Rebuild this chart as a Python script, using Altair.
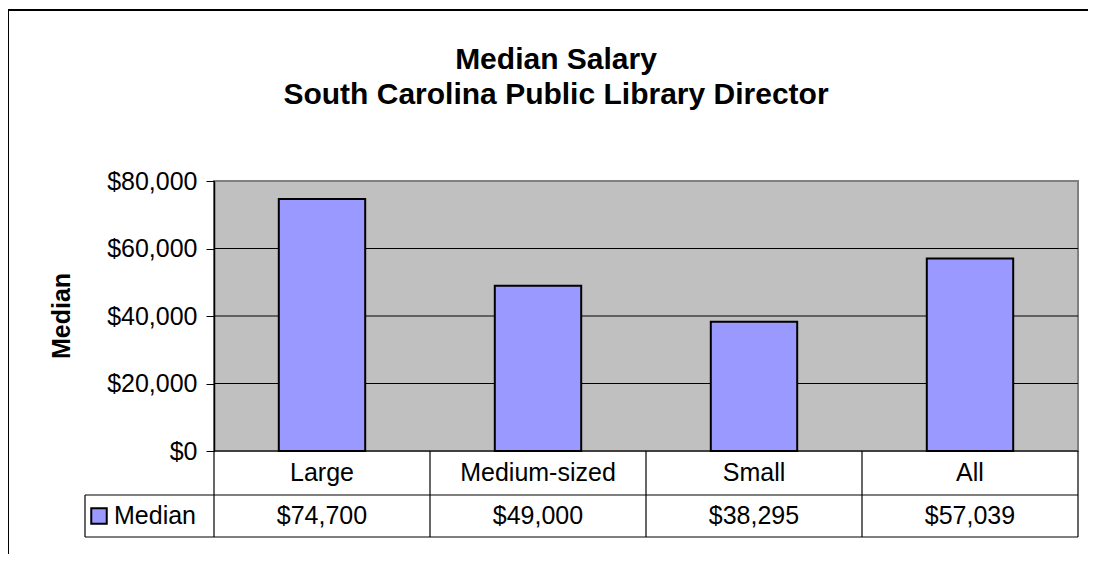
import altair as alt
import pandas as pd

# ---- data ----
categories = ["Large", "Medium-sized", "Small", "All"]
medians = [74700, 49000, 38295, 57039]
value_labels = ["$74,700", "$49,000", "$38,295", "$57,039"]
y_ticks = [0, 20000, 40000, 60000, 80000]
grid_values = [20000, 40000, 60000]
series_name = "Median"
title_lines = ["Median Salary", "South Carolina Public Library Director"]
y_title = "Median"

# ---- layout (pixels) ----
W, H = 864, 270
Y_MAX = 80000
N = len(categories)
PX_Y = H / Y_MAX          # pixels per salary unit
PX_X = W / N              # pixels per category column
ROW1 = -44 / PX_Y         # bottom of category row (in y units)
ROW2 = -86 / PX_Y         # bottom of value row
ROW1_MID = ROW1 / 2
ROW2_MID = (ROW1 + ROW2) / 2
LEG_LEFT = -129 / PX_X    # left edge of legend column
LEG_KEY = -115 / PX_X
LEG_TEXT = -100 / PX_X

FONT = "Liberation Sans"
BAR_COLOR = "#9999FF"

XS = alt.Scale(domain=[0, N], nice=False, zero=False, padding=0)
YS = alt.Scale(domain=[0, Y_MAX], nice=False, zero=False, padding=0)
YAX = alt.Axis(
    values=y_ticks, format="$,.0f", grid=False, title=None,
    domainColor="black", domainWidth=1.5,
    tickColor="black", tickSize=8, tickWidth=1,
    labelFontSize=25, labelFont=FONT, labelColor="black",
    labelPadding=9,
)

bars_df = pd.DataFrame({
    "cat": categories,
    "value": medians,
    "label": value_labels,
    "i": list(range(N)),
})
bars_df["x0"] = bars_df["i"] + 0.3
bars_df["x1"] = bars_df["i"] + 0.7
bars_df["xc"] = bars_df["i"] + 0.5
bars_df["row1"] = ROW1_MID
bars_df["row2"] = ROW2_MID

grid_df = pd.DataFrame({"y": grid_values, "x0": 0, "x1": N})

hlines_df = pd.DataFrame({
    "x0": [LEG_LEFT, LEG_LEFT, 0],
    "x1": [N, N, N],
    "y": [ROW1, ROW2, 0],
})
vlines_df = pd.DataFrame({
    "x": list(range(N + 1)) + [LEG_LEFT],
    "y0": [0] * (N + 1) + [ROW1],
    "y1": [ROW2] * (N + 1) + [ROW2],
})
legend_df = pd.DataFrame({"x": [LEG_KEY], "xt": [LEG_TEXT], "y": [ROW2_MID], "name": [series_name]})

grid = alt.Chart(grid_df).mark_rule(color="black", strokeWidth=1).encode(
    x=alt.X("x0:Q", scale=XS, axis=None),
    x2="x1:Q",
    y=alt.Y("y:Q", scale=YS, axis=YAX),
)

bars = alt.Chart(bars_df).mark_rect(
    color=BAR_COLOR, stroke="black", strokeWidth=2
).encode(
    x=alt.X("x0:Q", scale=XS, axis=None),
    x2="x1:Q",
    y=alt.Y("value:Q", scale=YS, axis=YAX),
    y2=alt.datum(0),
)

hlines = alt.Chart(hlines_df).mark_rule(color="black", strokeWidth=1.2).encode(
    x=alt.X("x0:Q", scale=XS, axis=None),
    x2="x1:Q",
    y=alt.Y("y:Q", scale=YS, axis=YAX),
)
vlines = alt.Chart(vlines_df).mark_rule(color="black", strokeWidth=1.2).encode(
    x=alt.X("x:Q", scale=XS, axis=None),
    y=alt.Y("y0:Q", scale=YS, axis=YAX),
    y2="y1:Q",
)

cat_text = alt.Chart(bars_df).mark_text(
    font=FONT, fontSize=25, color="black", baseline="middle", align="center"
).encode(
    x=alt.X("xc:Q", scale=XS, axis=None),
    y=alt.Y("row1:Q", scale=YS, axis=YAX),
    text="cat:N",
)
val_text = alt.Chart(bars_df).mark_text(
    font=FONT, fontSize=25, color="black", baseline="middle", align="center"
).encode(
    x=alt.X("xc:Q", scale=XS, axis=None),
    y=alt.Y("row2:Q", scale=YS, axis=YAX),
    text="label:N",
)

leg_key = alt.Chart(legend_df).mark_square(
    size=240, color=BAR_COLOR, stroke="black", strokeWidth=2, opacity=1
).encode(
    x=alt.X("x:Q", scale=XS, axis=None),
    y=alt.Y("y:Q", scale=YS, axis=YAX),
)
leg_text = alt.Chart(legend_df).mark_text(
    font=FONT, fontSize=25, color="black", baseline="middle", align="left"
).encode(
    x=alt.X("xt:Q", scale=XS, axis=None),
    y=alt.Y("y:Q", scale=YS, axis=YAX),
    text="name:N",
)

title_df = pd.DataFrame({"t1": [title_lines[0]], "t2": [title_lines[1]], "yt": [y_title]})
title1 = alt.Chart(title_df).mark_text(
    font=FONT, fontSize=30, fontWeight="bold", color="black",
    align="center", baseline="alphabetic"
).encode(x=alt.value(342), y=alt.value(-112), text="t1:N")
title2 = alt.Chart(title_df).mark_text(
    font=FONT, fontSize=30, fontWeight="bold", color="black",
    align="center", baseline="alphabetic"
).encode(x=alt.value(342), y=alt.value(-77), text="t2:N")
ytitle = alt.Chart(title_df).mark_text(
    font=FONT, fontSize=25, fontWeight="bold", color="black",
    align="center", baseline="middle", angle=270
).encode(x=alt.value(-152), y=alt.value(135), text="yt:N")

frame_left = alt.Chart(title_df).mark_rule(color="black", strokeWidth=2).encode(
    x=alt.value(-206), y=alt.value(-171), y2=alt.value(400)
)
frame_top = alt.Chart(title_df).mark_rule(color="black", strokeWidth=2).encode(
    x=alt.value(-206), x2=alt.value(900), y=alt.value(-171)
)

chart = alt.layer(
    grid, bars, hlines, vlines, cat_text, val_text, leg_key, leg_text,
    title1, title2, ytitle, frame_left, frame_top,
).properties(
    width=W, height=H,
    autosize=alt.AutoSizeParams(type="none"),
    padding={"left": 206, "top": 173, "right": 10, "bottom": 103},
    background="white",
).configure_view(
    fill="#C0C0C0", stroke="#808080", strokeWidth=2
)

chart.save("out.html", embed_options={"renderer": "svg", "actions": False})
